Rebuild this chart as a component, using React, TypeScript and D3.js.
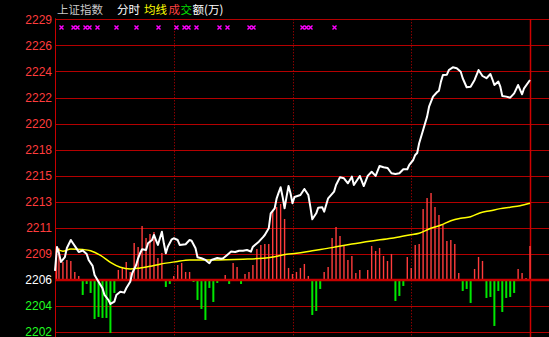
import React from "react";
import * as d3 from "d3";

const W = 549;
const H = 337;

// previous close and tick step of the price axis
const prevClose = 2206.9;
const tickStep = 2.225;
const tickSteps = [10, 9, 8, 7, 6, 5, 4, 3, 2, 1, 0, -1, -2];

const priceMinutes = [0,1,2,3,5,6,8,9,11,12,14,16,17,19,20,22,24,25,27,28,30,31,33,35,36,38,39,41,42,43,44,46,47,49,50,51,52,53,54,55,56,57,59,60,62,63,66,68,69,71,72,74,76,78,79,82,84,85,87,89,91,93,95,97,99,100,103,105,106,108,109,111,112,113,114,115,116,117,118,119,120,121,124,126,128,129,130,132,133,135,136,138,141,142,144,146,148,150,151,154,156,158,160,162,164,166,168,170,172,174,176,178,179,181,182,183,184,186,188,189,191,193,194,195,196,198,199,201,203,205,206,208,210,212,214,216,218,220,221,222,224,225,226,228,230,232,234,236,237,240];
const prices = [2207.67,2209.72,2209.20,2208.44,2208.86,2209.63,2210.31,2210.06,2209.55,2209.29,2209.42,2209.12,2208.61,2208.10,2207.33,2206.75,2206.19,2205.62,2205.19,2204.85,2205.05,2205.62,2205.90,2205.82,2206.19,2206.75,2207.47,2208.18,2208.75,2209.18,2209.52,2209.46,2210.03,2210.31,2210.74,2210.31,2209.89,2210.46,2211.02,2210.03,2209.18,2209.74,2210.37,2210.46,2210.31,2209.89,2209.95,2210.31,2210.25,2209.61,2208.84,2208.75,2208.61,2208.33,2208.61,2208.78,2208.72,2208.75,2209.03,2209.32,2209.29,2209.40,2209.40,2209.46,2209.32,2209.74,2210.17,2210.54,2210.74,2211.31,2212.59,2213.02,2213.87,2214.35,2214.81,2214.01,2213.02,2214.01,2214.92,2214.30,2213.45,2213.98,2214.15,2214.67,2214.15,2213.16,2212.08,2212.59,2213.07,2213.11,2212.73,2213.87,2214.44,2215.01,2215.67,2215.58,2215.15,2215.72,2215.01,2215.78,2214.92,2215.78,2216.14,2215.78,2216.63,2216.52,2216.46,2216.01,2215.95,2216.01,2216.35,2216.35,2216.72,2217.14,2217.57,2217.74,2218.57,2219.70,2220.84,2221.69,2222.55,2222.92,2223.06,2223.83,2224.40,2224.42,2224.82,2225.05,2224.97,2224.68,2224.12,2223.35,2223.40,2223.97,2224.82,2224.31,2224.12,2224.48,2224.03,2223.54,2223.83,2223.40,2222.60,2222.55,2222.46,2222.83,2223.54,2222.75,2223.26,2223.97];

const avgMinutes = [1,4,8,14,18,23,28,33,38,43,48,53,61,68,79,95,105,111,117,122,130,140,150,160,170,179,184,189,195,200,205,210,215,220,225,230,235,240];
const avgValues = [2209.55,2209.35,2209.55,2209.50,2209.40,2209.00,2208.40,2207.98,2207.83,2207.93,2208.07,2208.25,2208.46,2208.61,2208.61,2208.67,2208.75,2208.89,2209.09,2209.18,2209.40,2209.66,2209.97,2210.23,2210.46,2210.74,2210.89,2211.25,2211.59,2211.96,2212.17,2212.30,2212.64,2212.81,2212.99,2213.11,2213.24,2213.45];

// red/green strength bars, one every 2 minutes
const barValues = [25,32,18,20,19,8,4,-15,-4,-13,-39,-37,-38,-38,-53,-13,10,13,18,8,37,33,54,42,46,48,22,27,-7,-4,4,15,17,8,8,-2,-20,-29,-40,-8,-22,-3,0,5,-4,17,13,-4,6,8,15,31,35,36,36,70,73,76,61,12,6,8,12,16,4,-35,-31,-9,8,13,42,53,44,34,20,24,7,10,1,10,34,29,32,24,19,26,-21,-16,-6,23,12,35,36,71,82,87,73,65,55,39,40,36,7,-11,-9,-23,11,23,19,-18,-17,-46,-11,-32,-18,-17,-13,11,7,2,34];

const signalMinutes = [3,9,11,15,17,21,31,41,52,61,65,67,71,83,87,98,100,125,127,129,141];
const hourMarks = [60, 120, 180];

const headerParts = [
  { text: "上证指数", x: 57, color: "#c8c8c8" },
  { text: "分时", x: 117, color: "#ffffff" },
  { text: "均线", x: 144, color: "#ffff00" },
  { text: "成", x: 168.5, color: "#ff4040" },
  { text: "交", x: 180.5, color: "#00e000" },
  { text: "额(万)", x: 192.5, color: "#ffffff" },
];

export default function App() {
  const left = 55;
  const right = 530;
  const top = 19.3;
  const bottom = 332.1;
  const x = d3.scaleLinear().domain([0, 240]).range([left, right]);
  const y = d3
    .scaleLinear()
    .domain([prevClose - 2 * tickStep, prevClose + 10 * tickStep])
    .range([bottom, top]);
  const baseY = y(prevClose);
  const barH = d3.scaleLinear().domain([0, 100]).range([0, 100]);

  const priceLine = d3
    .line<number>()
    .x((_, i) => x(priceMinutes[i]))
    .y((d) => y(d))
    .curve(d3.curveLinear);
  const avgLine = d3
    .line<number>()
    .x((_, i) => x(avgMinutes[i]))
    .y((d) => y(d))
    .curve(d3.curveMonotoneX);

  const ticks = tickSteps.map((k) => prevClose + k * tickStep);

  return (
    <svg
      width={W}
      height={H}
      style={{ position: "fixed", left: 0, top: 0, background: "#000", display: "block" }}
    >
      <rect x={0} y={0} width={W} height={H} fill="#000" />
      {headerParts.map((p, i) => (
        <text
          key={i}
          x={p.x}
          y={14}
          fill={p.color}
          fontSize={11.5}
          fontFamily="'Noto Sans CJK SC', sans-serif"
        >
          {p.text}
        </text>
      ))}
      {/* grid */}
      {ticks.map((t, i) => (
        <line
          key={i}
          x1={left}
          x2={W}
          y1={Math.round(y(t)) + 0.5}
          y2={Math.round(y(t)) + 0.5}
          stroke="#b40000"
          strokeWidth={1}
        />
      ))}
      {hourMarks.map((m) => (
        <line
          key={m}
          x1={Math.round(x(m)) + 0.5}
          x2={Math.round(x(m)) + 0.5}
          y1={top}
          y2={H}
          stroke="#c80000"
          strokeWidth={1}
          strokeDasharray="1 2"
        />
      ))}
      <line x1={left + 0.5} x2={left + 0.5} y1={top - 1} y2={H} stroke="#c80000" strokeWidth={1} />
      <line x1={right + 0.5} x2={right + 0.5} y1={top} y2={H} stroke="#d00000" strokeWidth={1.5} />
      {/* bars */}
      {barValues.map((v, k) =>
        v === 0 ? null : (
          <line
            key={k}
            x1={x(k * 2) + (k === 0 ? 1.5 : 0)}
            x2={x(k * 2) + (k === 0 ? 1.5 : 0)}
            y1={v > 0 ? baseY : baseY + 1}
            y2={v > 0 ? baseY - barH(v) : baseY + barH(-v)}
            stroke={v > 0 ? "#ff3c3c" : "#00e800"}
            strokeWidth={v > 0 ? 1.4 : 2}
          />
        )
      )}
      <line x1={left} x2={W} y1={baseY} y2={baseY} stroke="#c80000" strokeWidth={2.5} />
      {/* average line */}
      <path d={avgLine(avgValues) || ""} fill="none" stroke="#ffff00" strokeWidth={1.5} />
      {/* price line */}
      <path
        d={priceLine(prices) || ""}
        fill="none"
        stroke="#ffffff"
        strokeWidth={2}
        strokeLinejoin="round"
      />
      {/* signals */}
      {signalMinutes.map((m, i) => {
        const cx = Math.round(x(m)) + 0.5;
        const cy = 27.5;
        return (
          <path
            key={i}
            d={`M${cx - 2},${cy - 2}L${cx + 2},${cy + 2}M${cx + 2},${cy - 2}L${cx - 2},${cy + 2}`}
            stroke="#ff00ff"
            strokeWidth={1.4}
            fill="none"
          />
        );
      })}
      {/* axis labels */}
      {ticks.map((t, i) => {
        const color =
          Math.abs(t - prevClose) < 1e-6 ? "#ffffff" : t > prevClose ? "#ff3c3c" : "#20ff20";
        return (
          <text
            key={i}
            x={52}
            y={y(t)}
            dy="0.36em"
            textAnchor="end"
            fill={color}
            fontSize={12}
            fontFamily="'Liberation Sans', Arial, sans-serif"
          >
            {Math.floor(t)}
          </text>
        );
      })}
    </svg>
  );
}
